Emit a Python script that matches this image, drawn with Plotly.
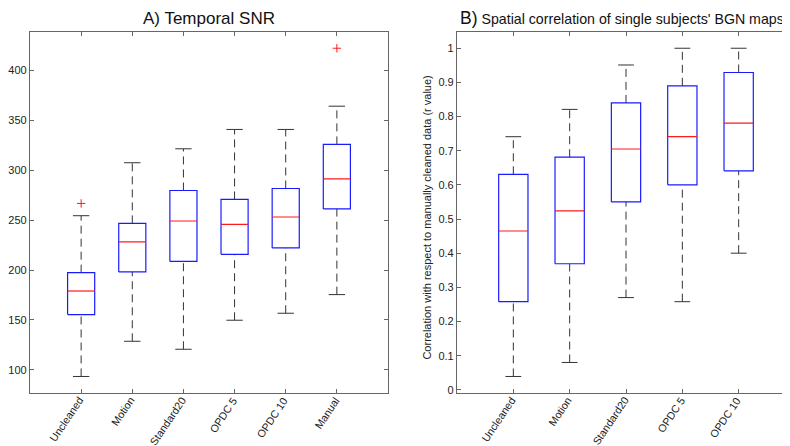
import plotly.graph_objects as go

# ---------------- data ----------------
snr_categories = ["Uncleaned", "Motion", "Standard20", "OPDC 5", "OPDC 10", "Manual"]
snr_lower = [93.3, 128.6, 120.6, 149.7, 156.7, 175.4]
snr_q1 = [155.4, 198.1, 208.7, 215.8, 222.2, 261.3]
snr_median = [179.0, 228.2, 249.2, 245.8, 253.2, 291.5]
snr_q3 = [197.4, 246.8, 279.8, 270.8, 281.8, 326.0]
snr_upper = [254.5, 307.6, 321.6, 341.0, 341.0, 364.3]
snr_outliers = [[266.8], [], [], [], [], [422.4]]
snr_yticks = [100, 150, 200, 250, 300, 350, 400]

corr_categories = ["Uncleaned", "Motion", "Standard20", "OPDC 5", "OPDC 10"]
corr_lower = [0.039, 0.080, 0.270, 0.258, 0.400]
corr_q1 = [0.258, 0.369, 0.550, 0.600, 0.641]
corr_median = [0.465, 0.524, 0.705, 0.741, 0.781]
corr_q3 = [0.631, 0.681, 0.840, 0.890, 0.929]
corr_upper = [0.741, 0.821, 0.951, 1.000, 1.000]
corr_outliers = [[], [], [], [], []]
corr_yticks = [0, 0.1, 0.2, 0.3, 0.4, 0.5, 0.6, 0.7, 0.8, 0.9, 1]
corr_yticklabels = ["0", "0.1", "0.2", "0.3", "0.4", "0.5", "0.6", "0.7", "0.8", "0.9", "1"]

title_a = "A) Temporal SNR"
title_b_prefix = "B)"
title_b = "Spatial correlation of single subjects' BGN maps"
ylabel_b = "Correlation with respect to manually cleaned data (r value)"

FONT = "Liberation Sans, Arial, sans-serif"
BOX_COLOR = "#1a1aff"
MED_COLOR = "#ff1a1a"
WHISK_COLOR = "#333333"
FRAME = "#666666"
TXT = "#222222"
W, H = 790, 446

fig = go.Figure()


def add_boxes(xa, ya, lower, q1, med, q3, upper, outliers, half_w, cap_w):
    bx, by, mx, my, wx, wy, cx, cy, ox, oy = [], [], [], [], [], [], [], [], [], []
    for k in range(len(q1)):
        i = k + 1
        bx += [i - half_w, i + half_w, i + half_w, i - half_w, i - half_w, None]
        by += [q1[k], q1[k], q3[k], q3[k], q1[k], None]
        mx += [i - half_w, i + half_w, None]
        my += [med[k], med[k], None]
        wx += [i, i, None, i, i, None]
        wy += [q3[k], upper[k], None, lower[k], q1[k], None]
        cx += [i - cap_w, i + cap_w, None, i - cap_w, i + cap_w, None]
        cy += [upper[k], upper[k], None, lower[k], lower[k], None]
        for o in outliers[k]:
            ox.append(i)
            oy.append(o)
    common = dict(xaxis=xa, yaxis=ya, showlegend=False, hoverinfo="skip")
    fig.add_trace(go.Scatter(x=wx, y=wy, mode="lines",
                             line=dict(color=WHISK_COLOR, width=1, dash="8px,5px"), **common))
    fig.add_trace(go.Scatter(x=cx, y=cy, mode="lines",
                             line=dict(color=WHISK_COLOR, width=1), **common))
    fig.add_trace(go.Scatter(x=bx, y=by, mode="lines",
                             line=dict(color=BOX_COLOR, width=1.2), **common))
    fig.add_trace(go.Scatter(x=mx, y=my, mode="lines",
                             line=dict(color=MED_COLOR, width=1.2), **common))
    if ox:
        fig.add_trace(go.Scatter(x=ox, y=oy, mode="markers",
                                 marker=dict(symbol="cross-thin", size=6,
                                             line=dict(color=MED_COLOR, width=1)),
                                 **common))


add_boxes("x", "y", snr_lower, snr_q1, snr_median, snr_q3, snr_upper, snr_outliers, 0.265, 0.16)
add_boxes("x2", "y2", corr_lower, corr_q1, corr_median, corr_q3, corr_upper, corr_outliers, 0.26, 0.14)


def yrange(lower, upper, outliers):
    lo = min(lower + [o for oo in outliers for o in oo])
    hi = max(upper + [o for oo in outliers for o in oo])
    pad = 0.05 * (hi - lo)
    return [lo - pad, hi + pad]


axis_common = dict(showline=True, linecolor=FRAME, linewidth=1.2, mirror="ticks",
                   ticks="inside", ticklen=4, tickcolor=FRAME, showgrid=False,
                   zeroline=False, tickfont=dict(family=FONT, size=11, color=TXT))

# rotated category labels, placed as text annotations at each category position
annotations = []
for xref, cats in (("x", snr_categories), ("x2", corr_categories)):
    for k, name in enumerate(cats):
        annotations.append(dict(text=name, x=k + 1, y=1 - 388 / H, xref=xref, yref="paper",
                                xanchor="right", yanchor="top", xshift=6, textangle=-56,
                                showarrow=False, borderpad=0,
                                font=dict(family=FONT, size=10.7, color=TXT)))

annotations += [
    dict(text=title_a, x=201 / W, y=1 - 11 / H, xref="paper", yref="paper",
         xanchor="center", yanchor="middle", showarrow=False,
         font=dict(family=FONT, size=17, color="#111")),
    dict(text="<span style='font-size:17.5px'>" + title_b_prefix + "</span> " + title_b,
         x=450 / W, y=1 - 10.5 / H, xref="paper", yref="paper", xanchor="left",
         yanchor="middle", showarrow=False, font=dict(family=FONT, size=14.2, color="#111")),
    dict(text=ylabel_b, x=419 / W, y=1 - 211 / H, xref="paper", yref="paper",
         xanchor="center", yanchor="middle", textangle=-90, showarrow=False,
         font=dict(family=FONT, size=11, color=TXT)),
]

fig.update_layout(
    width=W, height=H,
    margin=dict(l=0, r=0, t=0, b=0),
    paper_bgcolor="white", plot_bgcolor="white",
    font=dict(family=FONT, color=TXT),
    xaxis=dict(domain=[22 / W, 380 / W], range=[0, len(snr_categories) + 1],
               tickvals=list(range(1, len(snr_categories) + 1)), showticklabels=False,
               anchor="y", **axis_common),
    yaxis=dict(domain=[(H - 387.5) / H, (H - 24) / H],
               range=yrange(snr_lower, snr_upper, snr_outliers),
               tickvals=snr_yticks, anchor="x", **axis_common),
    xaxis2=dict(domain=[449 / W, 787 / W], range=[0, len(corr_categories) + 1],
                tickvals=list(range(1, len(corr_categories) + 1)), showticklabels=False,
                anchor="y2", **axis_common),
    yaxis2=dict(domain=[(H - 387.5) / H, (H - 24) / H],
                range=yrange(corr_lower, corr_upper, corr_outliers),
                tickvals=corr_yticks, ticktext=corr_yticklabels, anchor="x2", **axis_common),
    annotations=annotations,
)

fig.write_html("out.html")
